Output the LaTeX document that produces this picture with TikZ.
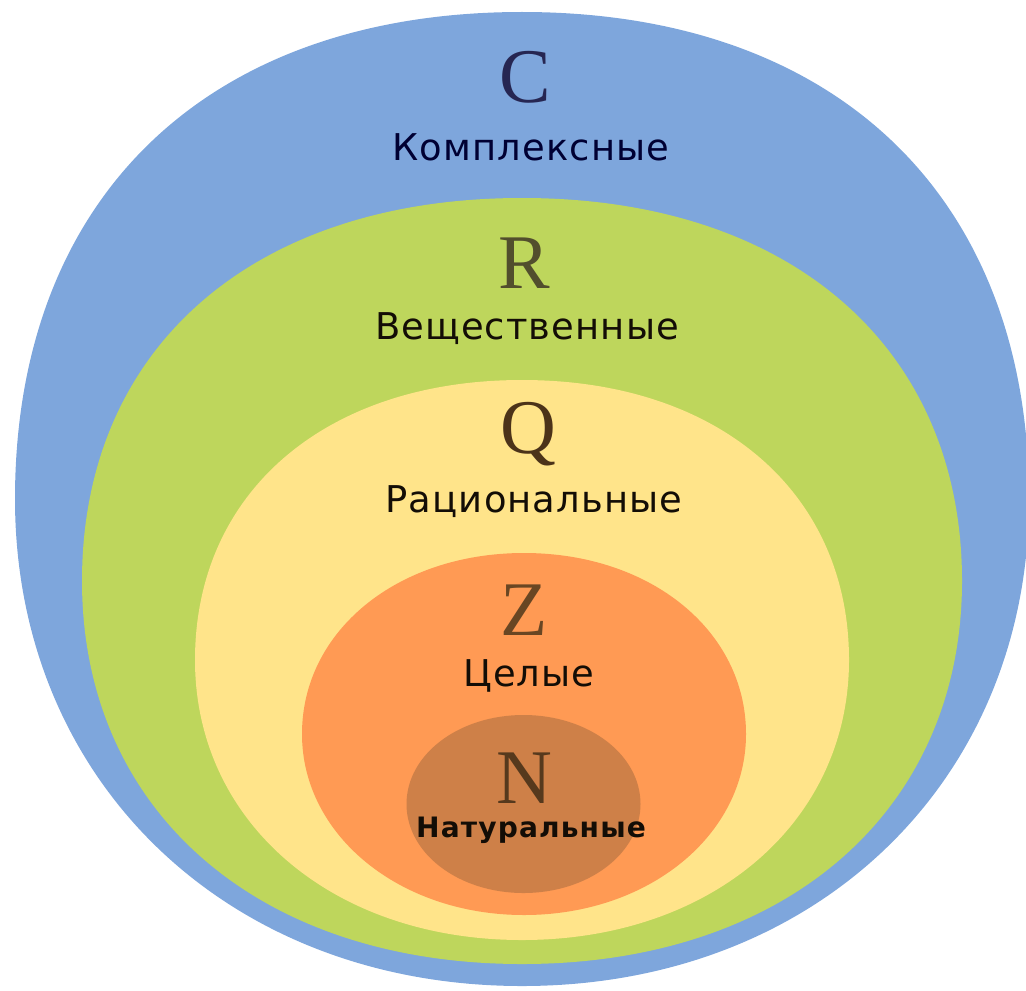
\documentclass[tikz,border=0pt]{standalone}
\usepackage{fontspec}
\usepackage{xcolor}
\newfontfamily\labelfont[LetterSpace=3]{DejaVu Sans}
\newfontfamily\natfont[LetterSpace=4]{DejaVu Sans Bold}
\newfontfamily\letterfont{Liberation Serif}

\definecolor{setC}{RGB}{126,166,220}
\definecolor{setR}{RGB}{190,214,92}
\definecolor{setQ}{RGB}{255,228,138}
\definecolor{setZ}{RGB}{255,154,84}
\definecolor{setN}{RGB}{206,128,72}

% oval set: colour, cx, cy, rx, ry, bulge on top, bulge below
\newcommand{\numset}[7]{%
    \fill[#1] (#2-#4,#3)
        .. controls (#2-#4,#3-#6*#5) and (#2-#6*#4,#3-#5) .. (#2,#3-#5)
        .. controls (#2+#6*#4,#3-#5) and (#2+#4,#3-#6*#5) .. (#2+#4,#3)
        .. controls (#2+#4,#3+#7*#5) and (#2+#7*#4,#3+#5) .. (#2,#3+#5)
        .. controls (#2-#7*#4,#3+#5) and (#2-#4,#3+#7*#5) .. (#2-#4,#3)
        -- cycle;}

\begin{document}
\begin{tikzpicture}[
    % GLOBAL CFG
    x=0.02cm, y=-0.02cm,
    % Styles
    letter/.style={% For the big set letters
        anchor=base,
        inner sep=0pt,
        font=\letterfont\fontsize{44}{44}\selectfont,
        },
    setname/.style={% For the names under the letters
        anchor=base,
        inner sep=0pt,
        font=\labelfont\fontsize{21}{22}\selectfont,
        text=black!90!brown,
        },
    ]
    \useasboundingbox (0,0) rectangle (1026,990);

    % Draw the sets, outer to inner
    \numset{setC}{522}{499}{507}{487}{0.62}{0.58}
    \numset{setR}{522}{581}{440}{383}{0.61}{0.60}
    \numset{setQ}{522}{660}{327}{280}{0.60}{0.58}
    \numset{setZ}{524}{734}{222}{181}{0.57}{0.56}
    \numset{setN}{523.5}{804}{117}{89}{0.555}{0.555}

    % Letters named let#
    \node [letter, text=blue!20!black!85] (letC) at (525,102) {C};
    \node [letter, text=olive!45!black] (letR) at (524,288) {R};
    \node [letter, text=brown!40!black] (letQ) at (528,453) {Q};
    \node [letter, text=brown!55!black] (letZ) at (524,635) {Z};
    \node [letter, text=brown!45!black] (letN) at (524,803) {N};

    % Names
    \node [setname, text=blue!20!black] (nameC) at (531,160) {Комплексные};
    \node [setname] (nameR) at (527,339) {Вещественные};
    \node [setname] (nameQ) at (534,512) {Рациональные};
    \node [setname] (nameZ) at (529,686) {Целые};
    \node [setname, font=\natfont\fontsize{16}{16}\selectfont] (nameN) at (531,837) {Натуральные};
\end{tikzpicture}
\end{document}
